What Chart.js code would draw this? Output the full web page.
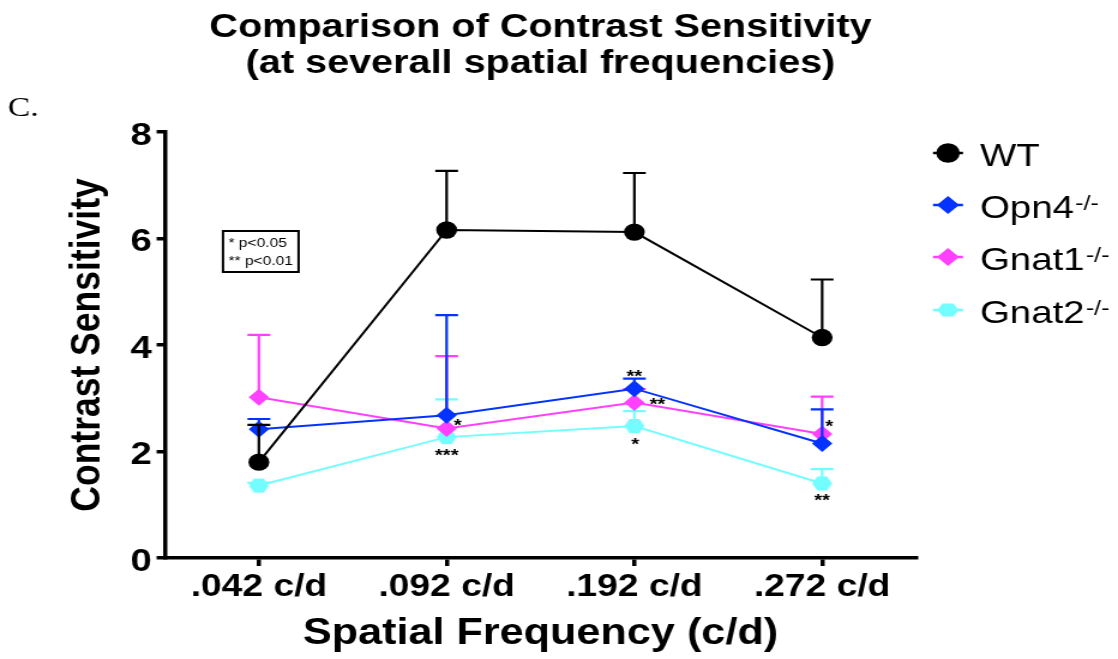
<!DOCTYPE html>
<html><head><meta charset="utf-8">
<script src="https://cdn.jsdelivr.net/npm/chart.js@4.4.1/dist/chart.umd.min.js"></script>
<style>
html,body{margin:0;padding:0;background:#fff;overflow:hidden}
#c{display:block;width:1118px;height:659px}
</style>
</head><body>
<canvas id="c" width="932" height="659"></canvas>
<script>
// ---------- data ----------
const categories = ['.042 c/d', '.092 c/d', '.192 c/d', '.272 c/d'];
const seriesNames = ['WT', 'Opn4', 'Gnat1', 'Gnat2'];
const wtValues    = [1.80, 6.16, 6.12, 4.14];
const wtSem       = [0.70, 1.11, 1.11, 1.09];
const opn4Values  = [2.42, 2.68, 3.18, 2.15];
const opn4Sem     = [0.19, 1.88, 0.19, 0.64];
const gnat1Values = [3.02, 2.43, 2.92, 2.33];
const gnat1Sem    = [1.17, 1.36, 0.25, 0.70];
const gnat2Values = [1.36, 2.27, 2.48, 1.40];
const gnat2Sem    = [0.05, 0.71, 0.28, 0.27];
const opn4Sig  = ['', '*', '**', '*'];
const gnat1Sig = ['', '', '**', ''];
const gnat2Sig = ['', '***', '*', '**'];
const yTicks = [0, 2, 4, 6, 8];
const titleLines = ['Comparison of Contrast Sensitivity', '(at severall spatial frequencies)'];
const yTitle = 'Contrast Sensitivity';
const xTitle = 'Spatial Frequency (c/d)';
const pValueNotes = ['* p<0.05', '** p<0.01'];
const panelLabel = 'C.';
const knockoutSup = '-/-';

// ---------- style ----------
const SX = 1118 / 932;               // horizontal stretch of the picture
const SANS = "'Liberation Sans', Arial, Helvetica, sans-serif";
const SERIF = "'Liberation Serif', 'Times New Roman', serif";
const colors = { WT: '#000000', Opn4: '#0433FF', Gnat1: '#FF40FF', Gnat2: '#73FDFF' };

function hexPath(g, cx, cy, w, h) {
  g.beginPath();
  g.moveTo(cx - w / 2, cy);
  g.lineTo(cx - w / 4, cy - h / 2);
  g.lineTo(cx + w / 4, cy - h / 2);
  g.lineTo(cx + w / 2, cy);
  g.lineTo(cx + w / 4, cy + h / 2);
  g.lineTo(cx - w / 4, cy + h / 2);
  g.closePath();
}
function hexImage(color, w, h) {
  const c = document.createElement('canvas');
  c.width = Math.ceil(w) + 2; c.height = Math.ceil(h) + 2;
  const g = c.getContext('2d');
  g.fillStyle = color;
  hexPath(g, c.width / 2, c.height / 2, w, h);
  g.fill();
  return c;
}
const hexPoint = hexImage(colors.Gnat2, 16.7, 14);

const sigOffsets = { // ref-pixel offsets of the significance marks from their point
  Opn4:  [null, [11, 6], [0, -17], [7, -21]],
  Gnat1: [null, null, [23, -2], null],
  Gnat2: [null, [0, 14], [1, 14], [0, 13]]
};
const sigByName = { Opn4: opn4Sig, Gnat1: gnat1Sig, Gnat2: gnat2Sig };

function ds(name, values, sem, pointStyle, radius) {
  return {
    label: name, data: values, sem: sem,
    borderColor: colors[name], backgroundColor: colors[name],
    pointBackgroundColor: colors[name], pointBorderWidth: 0,
    borderWidth: 2, tension: 0, pointStyle: pointStyle,
    pointRadius: radius, pointHoverRadius: radius, clip: false
  };
}

// error bars (upper only), drawn just before each dataset
const errorBars = {
  id: 'errorBars',
  beforeDatasetDraw(chart, args) {
    const d = chart.data.datasets[args.index];
    const ys = chart.scales.y, ctx = chart.ctx;
    ctx.save();
    ctx.strokeStyle = d.borderColor;
    ctx.lineWidth = 2.2;
    args.meta.data.forEach((pt, j) => {
      const top = ys.getPixelForValue(d.data[j] + d.sem[j]);
      ctx.beginPath();
      ctx.moveTo(pt.x, pt.y); ctx.lineTo(pt.x, top);
      ctx.moveTo(pt.x - 9.5, top); ctx.lineTo(pt.x + 9.5, top);
      ctx.stroke();
    });
    ctx.restore();
  }
};

const extras = {
  id: 'extras',
  afterDatasetsDraw(chart) {
    const ctx = chart.ctx;
    ctx.save();
    // significance asterisks
    ctx.fillStyle = '#000';
    ctx.font = 'bold 17px ' + SANS;
    ctx.textAlign = 'center';
    ctx.textBaseline = 'alphabetic';
    chart.data.datasets.forEach((d, i) => {
      const marks = sigByName[d.label];
      if (!marks) return;
      const meta = chart.getDatasetMeta(i);
      marks.forEach((m, j) => {
        if (!m) return;
        const off = sigOffsets[d.label][j];
        const pt = meta.data[j];
        ctx.fillText(m, pt.x + off[0] / SX, pt.y + off[1] + 0.58 * 17);
      });
    });
    // p-value box
    const ca = chart.chartArea;
    const bx = ca.left + (223 - 165) / SX, by = 231;
    ctx.lineWidth = 2;
    ctx.strokeStyle = '#000';
    ctx.strokeRect(bx, by, 63, 41);
    ctx.textAlign = 'left';
    ctx.textBaseline = 'middle';
    ctx.font = '13px ' + SANS;
    ctx.fillText(pValueNotes[0], bx + 4.5, 243);
    ctx.fillText(pValueNotes[1], bx + 4.5, 261);
    // panel label
    ctx.font = '28px ' + SERIF;
    ctx.textBaseline = 'alphabetic';
    ctx.fillText(panelLabel, 6.5, 116);
    // legend
    const rowsY = [153, 205, 257, 310];
    const mx = 948 / SX, tx = 980 / SX;
    chart.data.datasets.forEach((d, i) => {
      const y = rowsY[i];
      const c = d.borderColor;
      ctx.strokeStyle = c; ctx.fillStyle = c; ctx.lineWidth = 2.5;
      ctx.beginPath(); ctx.moveTo(933 / SX, y); ctx.lineTo(963 / SX, y); ctx.stroke();
      if (d.label === 'WT') {
        ctx.beginPath(); ctx.arc(mx, y, 9.8, 0, Math.PI * 2); ctx.fill();
      } else if (d.label === 'Gnat2') {
        hexPath(ctx, mx, y, 18, 13); ctx.fill();
      } else {
        ctx.beginPath();
        ctx.moveTo(mx - 9.3, y); ctx.lineTo(mx, y - 9); ctx.lineTo(mx + 9.3, y); ctx.lineTo(mx, y + 9);
        ctx.closePath(); ctx.fill();
      }
      ctx.fillStyle = '#000';
      ctx.font = '32px ' + SANS;
      const base = y + 13;
      ctx.fillText(d.label, tx, base);
      if (d.label !== 'WT') {
        const w = ctx.measureText(d.label).width;
        ctx.font = '21px ' + SANS;
        ctx.fillText(knockoutSup, tx + w + 1, base - 8.5);
      }
    });
    ctx.restore();
  }
};

const canvas = document.getElementById('c');
const chart = new Chart(canvas, {
  type: 'line',
  data: {
    labels: categories,
    datasets: [
      ds('WT', wtValues, wtSem, 'circle', 8.7),
      ds('Opn4', opn4Values, opn4Sem, 'rectRot', 8.5),
      ds('Gnat1', gnat1Values, gnat1Sem, 'rectRot', 8.5),
      ds('Gnat2', gnat2Values, gnat2Sem, hexPoint, 8.5)
    ]
  },
  options: {
    responsive: false,
    devicePixelRatio: 1,
    animation: false,
    events: [],
    layout: { padding: { left: 0, right: 932 - 916 / SX, top: 0, bottom: 0 } },
    plugins: {
      legend: { display: false },
      tooltip: { enabled: false },
      title: {
        display: true, text: titleLines, fullSize: false, color: '#000',
        font: { family: SANS, size: 33, weight: 'bold', lineHeight: '36.5px' },
        padding: { top: 9.25, bottom: 49.75 }
      }
    },
    scales: {
      x: {
        type: 'category', offset: true,
        afterFit(s) { s.height = 101; },
        grid: { display: true, drawOnChartArea: false, drawTicks: true, tickLength: 8,
                tickColor: '#000', tickWidth: 3.5, color: '#000', lineWidth: 3.5 },
        border: { display: true, color: '#000', width: 3.5 },
        ticks: { color: '#000', padding: 3, font: { family: SANS, size: 31, weight: 'bold' } },
        title: { display: true, text: xTitle, color: '#000',
                 font: { family: SANS, size: 36, weight: 'bold', lineHeight: 1.2 },
                 padding: { top: 0, bottom: 3.5 } }
      },
      y: {
        min: 0, max: 8,
        afterFit(s) { s.width = 165 / SX; },
        afterBuildTicks(s) { s.ticks = yTicks.map(v => ({ value: v })); },
        grid: { display: true, drawOnChartArea: false, drawTicks: true, tickLength: 7,
                tickColor: '#000', tickWidth: 3.5, color: '#000', lineWidth: 3.5 },
        border: { display: true, color: '#000', width: 3.5 },
        ticks: { color: '#000', padding: 4, labelOffset: 4, font: { family: SANS, size: 32, weight: 'bold' } },
        title: { display: true, text: yTitle, color: '#000',
                 font: { family: SANS, size: 35.5, weight: 'bold', lineHeight: 1.2 },
                 padding: { top: 88 / SX - 21.3, bottom: 0 } }
      }
    }
  },
  plugins: [errorBars, extras]
});
canvas.style.width = '1118px';
canvas.style.height = '659px';
</script>
</body></html>
